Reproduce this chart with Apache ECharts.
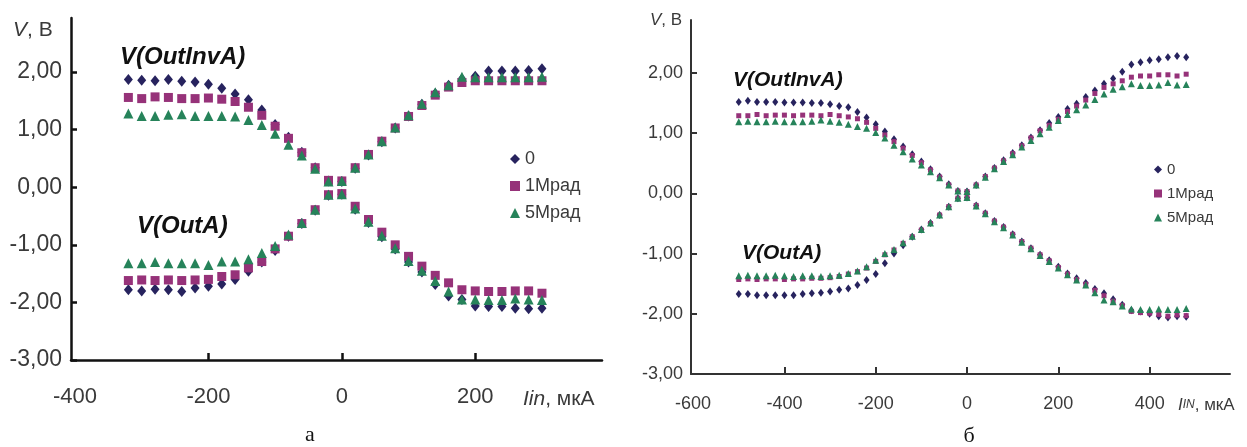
<!DOCTYPE html>
<html>
<head>
<meta charset="utf-8">
<script src="https://cdn.jsdelivr.net/npm/echarts@6/dist/echarts.min.js"></script>
<style>
	html, body { margin : 0; padding : 0; background : #fff; }
	#chart { width : 1247px; height : 447px; }
</style>
</head>
<body>
<div id="chart"></div>
<script>
// legend names
var seriesNames = ['0', '1Мрад', '5Мрад'];

// ---- panel a : Iin, мкА ----
var xA = [-320,-300,-280,-260,-240,-220,-200,-180,-160,-140,-120,-100,-80,-60,-40,-20,0,20,40,60,80,100,120,140,160,180,200,220,240,260,280,300];
// V(OutInvA)
var aInv0 = [1.87,1.86,1.85,1.87,1.84,1.83,1.79,1.72,1.62,1.52,1.34,1.09,0.87,0.61,0.34,0.11,-0.12,-0.38,-0.61,-0.86,-1.07,-1.30,-1.47,-1.69,-1.89,-1.95,-2.06,-2.07,-2.07,-2.10,-2.11,-2.10];
var aInv1 = [1.56,1.54,1.57,1.56,1.54,1.54,1.55,1.53,1.49,1.39,1.25,1.06,0.85,0.60,0.34,0.12,-0.11,-0.33,-0.56,-0.78,-1.00,-1.20,-1.37,-1.53,-1.66,-1.78,-1.80,-1.81,-1.81,-1.80,-1.80,-1.84];
var aInv5 = [1.28,1.24,1.24,1.26,1.27,1.24,1.24,1.24,1.23,1.17,1.08,0.93,0.74,0.55,0.32,0.10,-0.12,-0.37,-0.60,-0.84,-1.06,-1.28,-1.45,-1.63,-1.81,-1.95,-1.95,-1.96,-1.96,-1.93,-1.95,-1.96];
// V(OutA)
var aOut0 = [-1.78,-1.80,-1.77,-1.78,-1.81,-1.75,-1.72,-1.68,-1.60,-1.46,-1.30,-1.10,-0.85,-0.63,-0.40,-0.14,0.10,0.33,0.56,0.79,1.03,1.24,1.44,1.63,1.77,1.88,1.93,2.02,2.02,2.02,2.03,2.06];
var aOut1 = [-1.62,-1.61,-1.62,-1.61,-1.62,-1.61,-1.60,-1.55,-1.52,-1.40,-1.29,-1.07,-0.85,-0.63,-0.39,-0.13,0.11,0.34,0.57,0.80,1.03,1.23,1.42,1.60,1.74,1.82,1.85,1.85,1.85,1.85,1.85,1.85];
var aOut5 = [-1.32,-1.32,-1.30,-1.32,-1.32,-1.32,-1.35,-1.29,-1.29,-1.25,-1.14,-1.02,-0.82,-0.62,-0.39,-0.13,0.11,0.34,0.57,0.80,1.04,1.25,1.45,1.65,1.77,1.92,1.91,1.91,1.91,1.91,1.91,1.92];
var aTicksX = [-400, -200, 0, 200];
var aTicksY = [-3, -2, -1, 0, 1, 2];

// ---- panel б : IIN, мкА ----
var xB = [-500,-480,-460,-440,-420,-400,-380,-360,-340,-320,-300,-280,-260,-240,-220,-200,-180,-160,-140,-120,-100,-80,-60,-40,-20,0,20,40,60,80,100,120,140,160,180,200,220,240,260,280,300,320,340,360,380,400,420,440,460,480];
var bInv0 = [1.52,1.54,1.52,1.52,1.52,1.51,1.51,1.51,1.50,1.50,1.48,1.45,1.43,1.35,1.26,1.15,1.03,0.90,0.78,0.65,0.53,0.40,0.28,0.15,0.04,-0.07,-0.20,-0.33,-0.46,-0.56,-0.68,-0.80,-0.91,-1.02,-1.11,-1.22,-1.33,-1.41,-1.49,-1.59,-1.66,-1.76,-1.85,-1.94,-1.96,-2.00,-2.04,-2.06,-2.04,-2.05];
var bInv1 = [1.29,1.29,1.31,1.29,1.30,1.30,1.29,1.30,1.30,1.29,1.31,1.29,1.27,1.24,1.18,1.08,0.97,0.86,0.75,0.63,0.51,0.39,0.27,0.14,0.04,-0.07,-0.20,-0.33,-0.46,-0.56,-0.68,-0.80,-0.91,-1.02,-1.12,-1.23,-1.34,-1.43,-1.51,-1.61,-1.70,-1.79,-1.86,-1.96,-1.98,-1.99,-2.01,-2.04,-2.02,-2.03];
var bInv5 = [1.19,1.20,1.19,1.19,1.20,1.19,1.19,1.19,1.20,1.22,1.20,1.18,1.15,1.11,1.08,1.01,0.92,0.80,0.69,0.57,0.47,0.36,0.26,0.14,0.04,-0.07,-0.21,-0.34,-0.47,-0.57,-0.69,-0.81,-0.92,-1.03,-1.13,-1.24,-1.35,-1.44,-1.52,-1.65,-1.77,-1.80,-1.87,-1.92,-1.93,-1.93,-1.92,-1.93,-1.93,-1.91];
var bOut0 = [-1.67,-1.67,-1.69,-1.69,-1.69,-1.69,-1.69,-1.67,-1.66,-1.65,-1.63,-1.60,-1.58,-1.52,-1.44,-1.34,-1.16,-1.00,-0.86,-0.72,-0.60,-0.49,-0.36,-0.22,-0.08,0.03,0.14,0.28,0.42,0.55,0.67,0.80,0.93,1.05,1.17,1.27,1.40,1.49,1.60,1.71,1.82,1.91,2.02,2.14,2.18,2.21,2.23,2.26,2.28,2.26];
var bOut1 = [-1.43,-1.42,-1.43,-1.42,-1.42,-1.43,-1.42,-1.42,-1.41,-1.41,-1.40,-1.38,-1.34,-1.30,-1.24,-1.13,-1.02,-0.94,-0.83,-0.72,-0.61,-0.50,-0.36,-0.22,-0.08,0.03,0.14,0.28,0.42,0.54,0.66,0.79,0.92,1.04,1.13,1.23,1.36,1.45,1.55,1.66,1.76,1.82,1.87,1.93,1.95,1.95,1.97,1.97,1.95,1.98];
var bOut5 = [-1.37,-1.36,-1.37,-1.37,-1.36,-1.37,-1.38,-1.37,-1.37,-1.38,-1.37,-1.36,-1.33,-1.29,-1.22,-1.11,-1.00,-0.93,-0.82,-0.71,-0.60,-0.49,-0.36,-0.22,-0.08,0.03,0.14,0.27,0.41,0.53,0.64,0.77,0.88,0.99,1.10,1.21,1.31,1.39,1.47,1.56,1.65,1.73,1.77,1.82,1.79,1.79,1.80,1.84,1.80,1.81];
var bTicksX = [-600, -400, -200, 0, 200, 400];
var bTicksY = [-3, -2, -1, 0, 1, 2];

// 颜色 / 符号
var colors = ['#27235e', '#963279', '#26835a'];
var symbols = ['diamond', 'rect', 'triangle'];

function pairs(xs, ys) {
	var out = [];
	for (var i = 0; i < xs.length; i++) {
		out.push([xs[i], ys[i]]);
	}
	return out;
}

function fmtV(v) {
	return v.toFixed(2).replace('.', ',');
}

function makeSeries(idx, k, data, size) {
	return {
		type : 'scatter',
		name : seriesNames[k],
		xAxisIndex : idx,
		yAxisIndex : idx,
		symbol : symbols[k],
		symbolSize : size[k],
		itemStyle : { color : colors[k], opacity : 1 },
		data : data,
		silent : true,
		z : 2 + k
	};
}

function axisX(idx, min, max, labels, ticks, fs, margin, width, lineColor) {
	return {
		type : 'value',
		gridIndex : idx,
		min : min,
		max : max,
		axisLine : { onZero : false, lineStyle : { color : lineColor, width : width } },
		axisTick : { inside : true, length : 7, customValues : ticks, lineStyle : { color : lineColor, width : width } },
		axisLabel : {
			customValues : labels,
			margin : margin,
			fontSize : fs,
			fontFamily : 'Liberation Sans',
			color : '#3a3a3a'
		},
		splitLine : { show : false }
	};
}

function axisY(idx, max, labels, fs, margin, width, lineColor) {
	return {
		type : 'value',
		gridIndex : idx,
		min : -3,
		max : max,
		axisLine : { onZero : false, lineStyle : { color : lineColor, width : width } },
		axisTick : { inside : true, length : 6, customValues : labels, lineStyle : { color : lineColor, width : width } },
		axisLabel : {
			customValues : labels,
			margin : margin,
			fontSize : fs,
			fontFamily : 'Liberation Sans',
			color : '#3a3a3a',
			formatter : fmtV
		},
		splitLine : { show : false }
	};
}

function label(x, y, text, size) {
	return {
		type : 'text',
		x : x,
		y : y,
		style : {
			text : text,
			font : 'italic bold ' + size + 'px "Liberation Sans"',
			fill : '#111',
			verticalAlign : 'middle'
		}
	};
}

var sizeA = [[9, 11], 9, 10];
var sizeB = [[6, 8], 5, 7];

var series = [
	makeSeries(0, 0, pairs(xA, aInv0), sizeA),
	makeSeries(0, 0, pairs(xA, aOut0), sizeA),
	makeSeries(0, 1, pairs(xA, aInv1), sizeA),
	makeSeries(0, 1, pairs(xA, aOut1), sizeA),
	makeSeries(0, 2, pairs(xA, aInv5), sizeA),
	makeSeries(0, 2, pairs(xA, aOut5), sizeA),
	makeSeries(1, 0, pairs(xB, bInv0), sizeB),
	makeSeries(1, 0, pairs(xB, bOut0), sizeB),
	makeSeries(1, 1, pairs(xB, bInv1), sizeB),
	makeSeries(1, 1, pairs(xB, bOut1), sizeB),
	makeSeries(1, 2, pairs(xB, bInv5), sizeB),
	makeSeries(1, 2, pairs(xB, bOut5), sizeB)
];

var myChart = echarts.init(document.getElementById('chart'));
var option = {
	animation : false,
	backgroundColor : '#fff',
	grid : [
		{ left : 71, top : 18, width : 531, height : 342 },
		{ left : 691, top : 20, width : 539, height : 354 }
	],
	xAxis : [
		axisX(0, -406, 390, aTicksX, [-200, 0, 200], 22, 26, 2.5, '#111'),
		axisX(1, -604.6, 576, bTicksX, [-400, -200, 0, 200, 400], 18, 21, 2, '#333')
	],
	yAxis : [
		axisY(0, 2.94, aTicksY, 23, 9, 2.5, '#111'),
		axisY(1, 2.88, bTicksY, 18, 8, 2, '#333')
	],
	legend : [
		{
			orient : 'vertical',
			left : 505,
			top : 145,
			itemWidth : 10,
			itemHeight : 10,
			itemGap : 9,
			data : seriesNames,
			textStyle : { fontSize : 18, fontFamily : 'Liberation Sans', color : '#3a3a3a' }
		},
		{
			orient : 'vertical',
			left : 1149,
			top : 157,
			itemWidth : 8,
			itemHeight : 8,
			itemGap : 9,
			data : seriesNames,
			textStyle : { fontSize : 15, fontFamily : 'Liberation Sans', color : '#3a3a3a' }
		}
	],
	graphic : [
		// axis titles
		{
			type : 'text', x : 13, y : 30,
			style : {
				text : '{i|V}, В',
				font : '21px "Liberation Sans"',
				fill : '#3a3a3a',
				verticalAlign : 'middle',
				rich : { i : { fontStyle : 'italic', fontSize : 21, fontFamily : 'Liberation Sans' } }
			}
		},
		{
			type : 'text', x : 650, y : 20,
			style : {
				text : '{i|V}, В',
				font : '17px "Liberation Sans"',
				fill : '#3a3a3a',
				verticalAlign : 'middle',
				rich : { i : { fontStyle : 'italic', fontSize : 17, fontFamily : 'Liberation Sans' } }
			}
		},
		{
			type : 'text', x : 523, y : 399,
			style : {
				text : '{i|Iin}, мкА',
				font : '21px "Liberation Sans"',
				fill : '#3a3a3a',
				verticalAlign : 'middle',
				rich : { i : { fontStyle : 'italic', fontSize : 21, fontFamily : 'Liberation Sans' } }
			}
		},
		{
			type : 'text', x : 1178, y : 405,
			style : {
				text : '{i|I}{s|IN}, мкА',
				font : '17px "Liberation Sans"',
				fill : '#3a3a3a',
				verticalAlign : 'middle',
				rich : {
					i : { fontStyle : 'italic', fontSize : 17, fontFamily : 'Liberation Sans' },
					s : { fontStyle : 'italic', fontSize : 12, fontFamily : 'Liberation Sans' }
				}
			}
		},
		// curve names
		label(120, 57, 'V(OutInvA)', 24),
		label(137, 226, 'V(OutA)', 24),
		label(733, 80, 'V(OutInvA)', 21),
		label(742, 253, 'V(OutA)', 21),
		// panel letters
		{
			type : 'text', x : 310, y : 435,
			style : { text : 'а', font : '22px "Liberation Serif"', fill : '#111', align : 'center', verticalAlign : 'middle' }
		},
		{
			type : 'text', x : 969, y : 436,
			style : { text : 'б', font : '22px "Liberation Serif"', fill : '#111', align : 'center', verticalAlign : 'middle' }
		}
	],
	series : series
};
myChart.setOption(option);
</script>
</body>
</html>
